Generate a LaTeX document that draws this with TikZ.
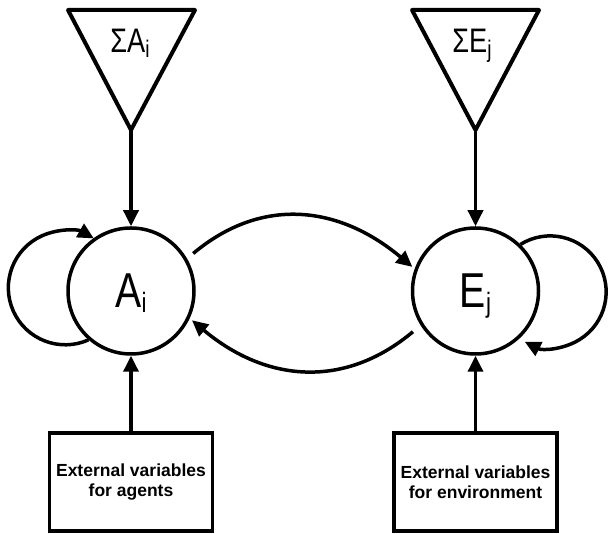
\documentclass[tikz,border=0pt]{standalone}
\usepackage{fontspec}
\setmainfont{Liberation Sans}
\usetikzlibrary{arrows.meta}
\newcommand{\bigidx}[2]{\scalebox{.8}[1]{#1\raisebox{-5pt}{\fontsize{28}{28}\selectfont #2}}}
\newcommand{\sumidx}[2]{\scalebox{.8}[1]{\fontsize{34}{34}\selectfont Σ#1\raisebox{-5pt}{\fontsize{24}{24}\selectfont #2}}}
\begin{document}
\begin{tikzpicture}[x=1pt,y=1pt,line width=3.5pt,
  arr/.style={-{Triangle[length=16pt,width=15pt]}},
  state/.style={circle,draw,minimum size=126pt,inner sep=0pt,text depth=0pt,font=\fontsize{49}{49}\selectfont},
  extbox/.style={draw,minimum width=163pt,minimum height=98pt,inner sep=0pt,align=center,font=\bfseries\fontsize{17.5}{20}\selectfont},
  sumtri/.style={line width=4pt,line join=round}]
\useasboundingbox (0,0) rectangle (609,534);
% Agents and environment
\node[state] (A) at (131,243) {\bigidx{A}{i}};
\node[state] (E) at (475.5,243) {\bigidx{E}{j}};
% Summation triangles
\draw[sumtri] (68,524) -- (195,524) -- (131,404) coordinate (SAtip) -- cycle;
\draw[sumtri] (412,524) -- (539,524) -- (475.5,404) coordinate (SEtip) -- cycle;
\node[anchor=base] (SAlbl) at (130,481) {\sumidx{A}{i}};
\node[anchor=base] (SElbl) at (472,481) {\sumidx{E}{j}};
\draw[arr] (SAtip) -- (A.north);
\draw[arr] (SEtip) -- (E.north);
% External variables
\node[extbox] (XA) at (131,52) {External variables\\for agents};
\node[extbox] (XE) at (475.5,52) {External variables\\for environment};
\draw[arr] (XA.north) -- (A.south);
\draw[arr] (XE.north) -- (E.south);
% Self loops
\draw[arr] (A.229) arc[start angle=-66, end angle=-300, radius=57];
\draw[arr] (E.46) arc[start angle=122, end angle=-117, radius=56];
% Interaction between agents and environment
\draw[arr, shorten <=8pt, shorten >=3pt] (A.30) to[out=40, in=140, looseness=1.1] (E.160);
\draw[arr, shorten <=10pt, shorten >=3pt] (E.212) to[out=220, in=-40, looseness=1.1] (A.-25);
\end{tikzpicture}
\end{document}
